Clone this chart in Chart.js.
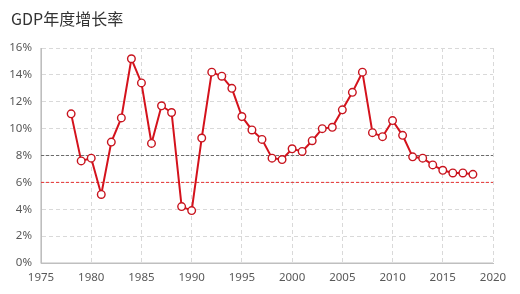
<!DOCTYPE html>
<html><head><meta charset="utf-8">
<script src="https://cdn.jsdelivr.net/npm/chart.js@4/dist/chart.umd.min.js"></script>
<style>
html,body{margin:0;padding:0;background:#fff;}
#wrap{position:relative;width:520px;height:294px;}
#title{position:absolute;left:11px;top:8px;font-family:"Noto Sans CJK SC","Noto Sans",sans-serif;font-size:16px;line-height:20px;color:#333;}
</style></head>
<body><div id="wrap"><div id="title">GDP年度增长率</div><canvas id="c" width="520" height="294"></canvas></div>
<script>
const years = [1978,1979,1980,1981,1982,1983,1984,1985,1986,1987,1988,1989,1990,1991,1992,1993,1994,1995,1996,1997,1998,1999,2000,2001,2002,2003,2004,2005,2006,2007,2008,2009,2010,2011,2012,2013,2014,2015,2016,2017,2018];
const growth = [11.1,7.6,7.8,5.1,9.0,10.8,15.2,13.4,8.9,11.7,11.2,4.2,3.9,9.3,14.2,13.9,13.0,10.9,9.9,9.2,7.8,7.7,8.5,8.3,9.1,10.0,10.1,11.4,12.7,14.2,9.7,9.4,10.6,9.5,7.9,7.8,7.3,6.9,6.7,6.7,6.6];
const refYears = [1975,2020];
const refGray = [8,8];
const refRed = [6,6];
const xTicks = [1975,1980,1985,1990,1995,2000,2005,2010,2015,2020];
const yTicks = [0,2,4,6,8,10,12,14,16];

const pts = (xs, ys) => xs.map((x,i)=>({x:x,y:ys[i]}));
const tickFont = {family:"'Noto Sans','DejaVu Sans',sans-serif", size:11.5};
new Chart(document.getElementById('c'), {
  type:'line',
  data:{datasets:[
    {data:pts(refYears,refGray), borderColor:'#6b6b6b', borderWidth:1, borderDash:[3,2], pointRadius:0, order:3},
    {data:pts(refYears,refRed), borderColor:'#e83030', borderWidth:1, borderDash:[3,2], pointRadius:0, order:2},
    {data:pts(years,growth), borderColor:'#d4121c', borderWidth:2, pointRadius:3.8, pointBorderWidth:1.4,
     pointBackgroundColor:'#ffffff', pointBorderColor:'#c8141e', tension:0, order:1}
  ]},
  options:{
    responsive:false, animation:false,
    layout:{padding:{left:0,right:27,top:48,bottom:7}},
    plugins:{legend:{display:false}, tooltip:{enabled:false}},
    scales:{
      x:{type:'linear', min:1975, max:2020,
        afterBuildTicks:(s)=>{s.ticks = xTicks.map(v=>({value:v}));},
        afterFit:(s)=>{s.height=24;},
        ticks:{color:'#595959', font:tickFont, padding:8, maxRotation:0, callback:(v)=>String(v)},
        grid:{color:'#d9d9d9', drawTicks:false},
        border:{display:true, color:'#bfbfbf', dash:[4,3]}
      },
      y:{min:0, max:16,
        afterBuildTicks:(s)=>{s.ticks = yTicks.map(v=>({value:v}));},
        afterFit:(s)=>{s.width=41;},
        ticks:{color:'#595959', font:tickFont, padding:9, callback:(v)=>v+'%'},
        grid:{color:'#d9d9d9', drawTicks:false},
        border:{display:true, color:'#bfbfbf', dash:[4,3]}
      }
    }
  },
  plugins:[{id:'axes', beforeDatasetsDraw(chart){
    const {ctx, chartArea:a} = chart;
    ctx.save(); ctx.strokeStyle='#bfbfbf'; ctx.lineWidth=1.2; ctx.setLineDash([]);
    ctx.beginPath(); ctx.moveTo(a.left, a.top); ctx.lineTo(a.left, a.bottom); ctx.lineTo(a.right, a.bottom); ctx.stroke();
    ctx.restore();
  }}]
});
</script></body></html>
